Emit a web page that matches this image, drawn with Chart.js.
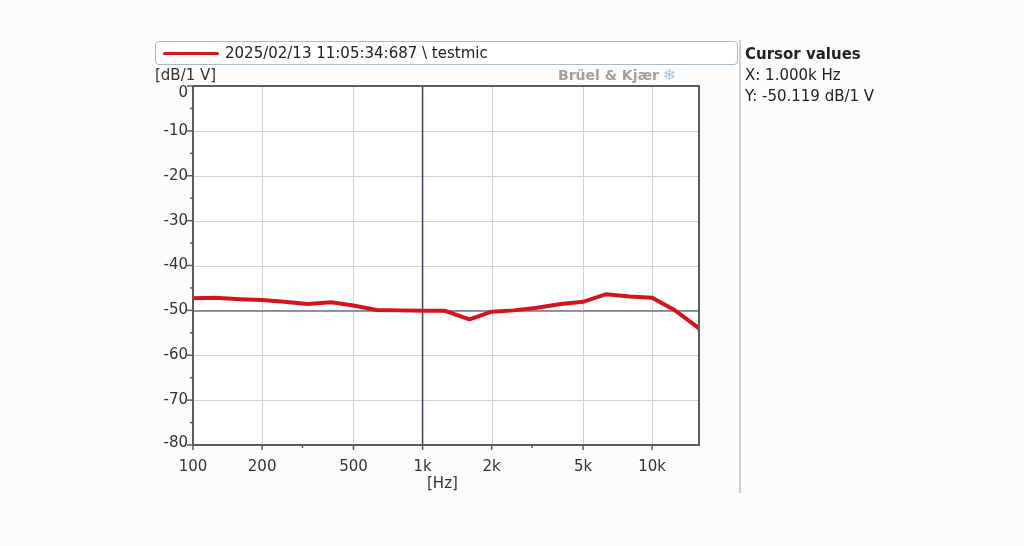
<!DOCTYPE html>
<html>
<head>
<meta charset="utf-8">
<script src="https://cdn.jsdelivr.net/npm/chart.js@4/dist/chart.umd.min.js"></script>
<style>
  html,body{margin:0;padding:0;background:#fcfcfc;}
  #wrap{position:relative;width:1024px;height:546px;overflow:hidden;font-family:"DejaVu Sans",sans-serif;color:#222;}
  canvas{position:absolute;left:0;top:0;}
  #legend{position:absolute;left:155px;top:41px;width:583px;height:24px;border:1px solid #a9b8c6;border-radius:4px;background:#fff;box-sizing:border-box;}
  #legend .sw{position:absolute;left:7px;top:10px;width:56px;height:3px;background:#d0161e;border-radius:2px;}
  #legend .tx{position:absolute;left:69px;top:2px;font-size:15px;line-height:18px;color:#222;white-space:nowrap;}
  #yunit{position:absolute;left:155px;top:66px;font-size:15px;color:#333;}
  #xunit{position:absolute;left:427px;top:474px;font-size:15px;color:#333;}
  #brand{position:absolute;left:558px;top:66px;font-size:14px;font-weight:bold;color:#a0a0a0;white-space:nowrap;}
  #brand span{color:#9cc4e8;font-size:15px;margin-left:4px;}
  #sep{position:absolute;left:739px;top:40px;width:2px;height:453px;background:#d6cec6;}
  #cursor{position:absolute;left:745px;top:44px;font-size:15px;line-height:21px;color:#222;white-space:nowrap;}
  #cursor b{font-size:15px;}
</style>
</head>
<body>
<div id="wrap">
  <canvas id="c" width="1024" height="546"></canvas>
  <div id="legend"><div class="sw"></div><div class="tx" id="legtx"></div></div>
  <div id="yunit">[dB/1 V]</div>
  <div id="xunit">[Hz]</div>
  <div id="brand">Brüel &amp; Kjær<span>❄</span></div>
  <div id="sep"></div>
  <div id="cursor"><b>Cursor values</b><br><span id="cx"></span><br><span id="cy"></span></div>
</div>
<script>
// ---- data ----
const seriesLabel = "2025/02/13 11:05:34:687 \\ testmic";
const freqs = [100,125,160,200,250,315,400,500,630,800,1000,1250,1600,2000,2500,3150,4000,5000,6300,8000,10000,12500,16000];
const levels = [-47.3,-47.2,-47.5,-47.7,-48.1,-48.6,-48.2,-48.9,-49.9,-50.0,-50.1,-50.1,-52.0,-50.3,-50.0,-49.4,-48.6,-48.1,-46.4,-46.9,-47.2,-49.9,-54.0];
const xTickValues = [100,200,300,500,1000,2000,3000,5000,10000,16000];
const xTickLabels = ["100","200","","500","1k","2k","","5k","10k",""];
const xGridValues = [200,500,2000,5000,10000];
const yMajorTicks = [0,-10,-20,-30,-40,-50,-60,-70,-80];
const yMinorTicks = [-5,-15,-25,-35,-45,-55,-65,-75];
const cursorX = 1000;
const cursorY = -50.119;

document.getElementById('legtx').textContent = seriesLabel;
document.getElementById('cx').textContent = "X: 1.000k Hz";
document.getElementById('cy').textContent = "Y: " + cursorY.toFixed(3) + " dB/1 V";

const decor = {
  id:'decor',
  beforeDatasetsDraw(chart){
    const {ctx, chartArea:a, scales:{x,y}} = chart;
    ctx.save();
    ctx.fillStyle = '#ffffff';
    ctx.fillRect(a.left,a.top,a.right-a.left,a.bottom-a.top);
    ctx.strokeStyle = '#d2d2d2'; ctx.lineWidth = 1;
    xGridValues.forEach(v=>{const px=Math.round(x.getPixelForValue(v))+0.5;ctx.beginPath();ctx.moveTo(px,a.top);ctx.lineTo(px,a.bottom);ctx.stroke();});
    yMajorTicks.forEach(v=>{const py=Math.round(y.getPixelForValue(v))+0.5;ctx.beginPath();ctx.moveTo(a.left,py);ctx.lineTo(a.right,py);ctx.stroke();});
    // cursor lines
    ctx.strokeStyle = '#75708c'; ctx.lineWidth = 1.5;
    let py = y.getPixelForValue(cursorY);
    ctx.beginPath();ctx.moveTo(a.left,py);ctx.lineTo(a.right,py);ctx.stroke();
    ctx.strokeStyle = '#4a3a58'; ctx.lineWidth = 1.5;
    let px = x.getPixelForValue(cursorX);
    ctx.beginPath();ctx.moveTo(px,a.top);ctx.lineTo(px,a.bottom);ctx.stroke();
    ctx.restore();
  },
  afterDatasetsDraw(chart){
    const {ctx, chartArea:a, scales:{x,y}} = chart;
    ctx.save();
    ctx.strokeStyle = '#5c5c5c'; ctx.lineWidth = 2;
    ctx.strokeRect(a.left,a.top,a.right-a.left,a.bottom-a.top);
    ctx.lineWidth = 1.5;
    yMajorTicks.forEach(v=>{const p=y.getPixelForValue(v);ctx.beginPath();ctx.moveTo(a.left-6,p);ctx.lineTo(a.left,p);ctx.stroke();});
    yMinorTicks.forEach(v=>{const p=y.getPixelForValue(v);ctx.beginPath();ctx.moveTo(a.left-3,p);ctx.lineTo(a.left,p);ctx.stroke();});
    xTickValues.forEach((v,i)=>{ if(v===16000) return; const p=x.getPixelForValue(v);const len=xTickLabels[i]?5:3;ctx.beginPath();ctx.moveTo(p,a.bottom);ctx.lineTo(p,a.bottom+len);ctx.stroke();});
    // y tick labels (top one kept inside the frame height, as in the reference)
    ctx.fillStyle = '#333';
    ctx.font = '15px "DejaVu Sans"';
    ctx.textAlign = 'right'; ctx.textBaseline = 'middle';
    yMajorTicks.forEach(v=>{
      let p = y.getPixelForValue(v);
      p = Math.max(p, a.top + 7);
      p = Math.min(p, a.bottom - 2);
      ctx.fillText(String(v), a.left - 5, p);
    });
    ctx.restore();
  }
};

new Chart(document.getElementById('c'), {
  type:'line',
  data:{
    datasets:[{
      label: seriesLabel,
      data: freqs.map((f,i)=>({x:f,y:levels[i]})),
      borderColor:'#d4141c',
      borderWidth:4,
      pointRadius:0,
      tension:0,
      fill:false
    }]
  },
  options:{
    responsive:false,
    animation:false,
    events:[],
    layout:{padding:{left:153,right:325,top:86,bottom:71}},
    plugins:{legend:{display:false},tooltip:{enabled:false}},
    scales:{
      x:{
        type:'logarithmic', min:100, max:16000,
        afterBuildTicks(s){ s.ticks = xTickValues.map(v=>({value:v})); },
        afterFit(s){ s.height = 30; },
        grid:{display:false},
        border:{display:false},
        ticks:{
          autoSkip:false, maxRotation:0, padding:5,
          color:'#333', font:{family:'DejaVu Sans', size:15},
          callback(v, i){ return xTickLabels[i]; }
        }
      },
      y:{
        min:-80, max:0,
        afterBuildTicks(s){ s.ticks = yMajorTicks.map(v=>({value:v})); },
        afterFit(s){ s.width = 40; },
        grid:{display:false},
        border:{display:false},
        ticks:{ display:false }
      }
    }
  },
  plugins:[decor]
});
</script>
</body>
</html>
